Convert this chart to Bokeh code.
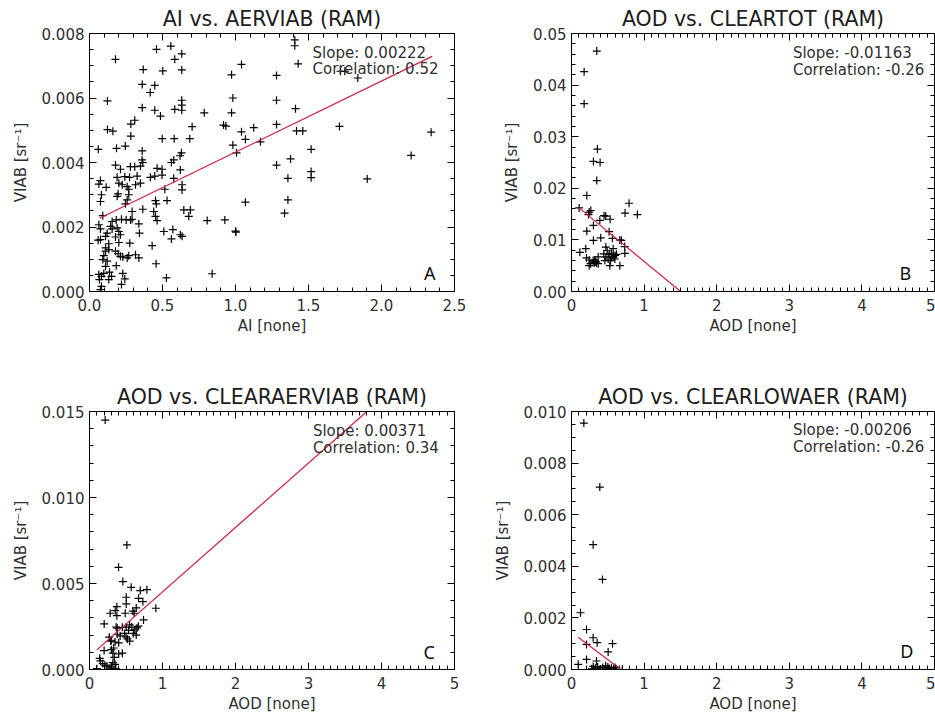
from bokeh.plotting import figure
from bokeh.models import (Range1d, LinearAxis, SingleIntervalTicker, PrintfTickFormatter, Label,
                          CustomLabelingPolicy)
from bokeh.layouts import column, row
from bokeh.embed import file_html
from bokeh.resources import INLINE

# ---------------- Panel A: AI vs. AERVIAB ----------------
a_x = [0.459, 0.557, 0.632, 0.178, 0.584, 0.368, 0.502, 0.632, 0.361, 0.447,
       0.416, 0.123, 0.632, 0.632, 0.632, 0.361, 0.447, 0.486, 0.584, 0.786,
       0.310, 0.283, 0.123, 0.160, 0.283, 0.703, 0.918, 0.934, 0.498, 0.580,
       0.687, 0.060, 0.185, 0.245, 0.361, 0.630, 0.620,
       0.360, 0.365, 0.577, 0.561, 0.178, 0.212, 0.280, 0.310, 0.349, 0.463, 0.497, 0.622,
       0.075, 0.189, 0.242, 0.274, 0.326, 0.417, 0.447, 0.497, 0.577, 0.634, 0.634,
       0.064, 0.114, 0.201, 0.224, 0.258, 0.269, 0.315, 0.349, 0.516,
       0.082, 0.075, 0.196, 0.189, 0.269, 0.258, 0.246, 0.452, 0.458, 0.531,
       0.292, 0.365, 0.440, 0.452, 0.463, 0.646, 0.691, 0.680, 0.091, 0.155,
       0.183, 0.219, 0.251, 0.281, 0.292, 0.338, 0.806, 0.927,
       0.064, 0.075, 0.144, 0.155, 0.189, 0.201, 0.121, 0.110, 0.178, 0.212,
       0.342, 0.509, 0.571, 0.561, 0.622, 0.634, 0.429,
       0.059, 0.075, 0.132, 0.201, 0.276, 0.110,
       0.110, 0.132, 0.178, 0.196, 0.212, 0.228, 0.258, 0.269, 0.315, 0.338,
       0.098, 0.091, 0.121, 0.183, 0.456,
       0.064, 0.082, 0.098, 0.137, 0.151, 0.068, 0.132, 0.228, 0.242, 0.527, 0.840, 0.110,
       0.082, 0.075, 0.219,
       1.406, 1.406, 1.041, 1.429, 0.973, 1.281, 1.719, 1.749, 1.838, 0.982,
       1.281, 0.973, 1.411, 1.281, 1.041, 1.125, 1.418, 1.461, 1.712, 2.340,
       0.982, 1.068, 1.171, 1.007, 1.518, 2.203, 1.281, 1.377, 1.359, 1.518,
       1.518, 1.902, 1.068, 1.359, 1.336, 1.000, 1.003]
a_y = [0.00751, 0.00761, 0.00737, 0.00720, 0.00720, 0.00688, 0.00684, 0.00687, 0.00642, 0.00639,
       0.00617, 0.00591, 0.00593, 0.00578, 0.00562, 0.00570, 0.00562, 0.00544, 0.00565, 0.00554,
       0.00531, 0.00519, 0.00502, 0.00497, 0.00482, 0.00511, 0.00516, 0.00513, 0.00474, 0.00474,
       0.00474, 0.00441, 0.00444, 0.00451, 0.00436, 0.00430, 0.00421,
       0.00408, 0.00400, 0.00408, 0.00400, 0.00392, 0.00379, 0.00387, 0.00387, 0.00389, 0.00382, 0.00379, 0.00377,
       0.00344, 0.00354, 0.00356, 0.00354, 0.00358, 0.00354, 0.00358, 0.00361, 0.00351, 0.00331, 0.00315,
       0.00333, 0.00323, 0.00336, 0.00331, 0.00325, 0.00317, 0.00331, 0.00336, 0.00317,
       0.00300, 0.00279, 0.00303, 0.00295, 0.00300, 0.00284, 0.00272, 0.00282, 0.00272, 0.00282,
       0.00248, 0.00255, 0.00248, 0.00233, 0.00220, 0.00253, 0.00253, 0.00233, 0.00235, 0.00217,
       0.00222, 0.00224, 0.00222, 0.00222, 0.00224, 0.00210, 0.00220, 0.00222,
       0.00207, 0.00194, 0.00202, 0.00194, 0.00197, 0.00186, 0.00181, 0.00171, 0.00169, 0.00176,
       0.00181, 0.00186, 0.00192, 0.00163, 0.00176, 0.00171, 0.00142,
       0.00159, 0.00161, 0.00148, 0.00152, 0.00150, 0.00135,
       0.00125, 0.00130, 0.00125, 0.00117, 0.00109, 0.00107, 0.00104, 0.00111, 0.00114, 0.00104,
       0.00111, 0.00099, 0.00094, 0.00080, 0.00086,
       0.00053, 0.00047, 0.00056, 0.00060, 0.00047, 0.00037, 0.00037, 0.00056, 0.00039, 0.00042, 0.00055, 0.00078,
       0.00016, 0.00006, 0.00022,
       0.00780, 0.00762, 0.00704, 0.00706, 0.00672, 0.00670, 0.00683, 0.00683, 0.00662, 0.00600,
       0.00593, 0.00554, 0.00567, 0.00518, 0.00495, 0.00508, 0.00498, 0.00498, 0.00512, 0.00494,
       0.00454, 0.00472, 0.00464, 0.00430, 0.00441, 0.00422, 0.00392, 0.00411, 0.00351, 0.00372,
       0.00353, 0.00349, 0.00277, 0.00284, 0.00243, 0.00187, 0.00184]
a_fit_x = [0.069, 2.347]
a_fit_y = [0.00227, 0.00729]

# ---------------- Panel B: AOD vs. CLEARTOT ----------------
b_x = [0.348, 0.174, 0.174, 0.357, 0.302, 0.394, 0.348, 0.211, 0.793, 0.738,
       0.907, 0.105, 0.243, 0.266, 0.234, 0.302, 0.449, 0.390, 0.532, 0.472,
       0.211, 0.403, 0.302, 0.518, 0.564, 0.665, 0.687, 0.733,
       0.115, 0.197, 0.207, 0.243, 0.262, 0.298, 0.321, 0.335, 0.344, 0.367,
       0.473, 0.491, 0.445, 0.473, 0.519, 0.551, 0.574, 0.597, 0.537, 0.574,
       0.620, 0.666, 0.528, 0.735, 0.243, 0.367, 0.459, 0.505,
       0.320, 0.310, 0.550, 0.600]
b_y = [0.0466, 0.0426, 0.0364, 0.0276, 0.0252, 0.0250, 0.0215, 0.0186, 0.0171, 0.0152,
       0.0149, 0.0162, 0.0154, 0.0157, 0.0149, 0.0128, 0.0147, 0.0138, 0.0140, 0.0146,
       0.0117, 0.0104, 0.0099, 0.0116, 0.0103, 0.0100, 0.0099, 0.0087,
       0.0076, 0.0083, 0.0065, 0.0061, 0.0054, 0.0060, 0.0061, 0.0058, 0.0055, 0.0067,
       0.0086, 0.0079, 0.0073, 0.0067, 0.0072, 0.0074, 0.0068, 0.0063, 0.0060, 0.0083,
       0.0072, 0.0050, 0.0050, 0.0074, 0.0050, 0.0054, 0.0060, 0.0063,
       0.0057, 0.0055, 0.0066, 0.0070]
b_fit_x = [0.105, 1.503]
b_fit_y = [0.0162, 0.0]

# ---------------- Panel C: AOD vs. CLEARAERVIAB ----------------
c_x = [0.215, 0.512, 0.398, 0.457, 0.503, 0.571, 0.695, 0.786, 0.672, 0.731,
       0.503, 0.375, 0.352, 0.375, 0.283, 0.489, 0.594, 0.612, 0.640, 0.909,
       0.740, 0.201, 0.365, 0.503, 0.535, 0.580, 0.650, 0.670, 0.480, 0.500,
       0.520, 0.550, 0.420, 0.380, 0.600, 0.640, 0.270, 0.300, 0.350, 0.330,
       0.320, 0.300, 0.200, 0.450, 0.400, 0.340, 0.320, 0.140, 0.150, 0.180,
       0.240, 0.300, 0.350, 0.360, 0.100, 0.280, 0.210, 0.380, 0.550, 0.450,
       0.620, 0.290, 0.400]
c_y = [0.01450, 0.00724, 0.00594, 0.00511, 0.00420, 0.00478, 0.00459, 0.00464, 0.00414, 0.00395,
       0.00381, 0.00365, 0.00342, 0.00313, 0.00327, 0.00327, 0.00339, 0.00327, 0.00358, 0.00356,
       0.00288, 0.00265, 0.00247, 0.00247, 0.00228, 0.00247, 0.00242, 0.00252, 0.00210, 0.00190,
       0.00178, 0.00165, 0.00195, 0.00205, 0.00210, 0.00200, 0.00188, 0.00170, 0.00160, 0.00125,
       0.00095, 0.00115, 0.00110, 0.00095, 0.00090, 0.00070, 0.00040, 0.00065, 0.00050, 0.00035,
       0.00020, 0.00015, 0.00030, 0.00005, 0.00005, 0.00008, 0.00025, 0.00240, 0.00260, 0.00245,
       0.00230, 0.00165, 0.00155]
c_fit_x = [0.100, 3.800]
c_fit_y = [0.00114, 0.01500]

# ---------------- Panel D: AOD vs. CLEARLOWAER ----------------
d_x = [0.170, 0.390, 0.298, 0.427, 0.124, 0.207, 0.298, 0.353, 0.207, 0.565,
       0.505, 0.092, 0.207, 0.344, 0.300, 0.330, 0.360, 0.400, 0.430, 0.470,
       0.500, 0.520, 0.550, 0.580, 0.620, 0.660, 0.700, 0.380, 0.450, 0.280, 0.600]
d_y = [0.00955, 0.00707, 0.00484, 0.00349, 0.00220, 0.00155, 0.00123, 0.00104, 0.00097, 0.00100,
       0.00068, 0.00020, 0.00039, 0.00033, 0.00012, 0.00005, 0.00010, 0.00002, 0.00008, 0.00015,
       0.00010, 0.00004, 0.00006, 0.00002, 0.00001, 0.00000, 0.00000, 0.00000, 0.00000, 0.00003, 0.00008]
d_fit_x = [0.092, 0.680]
d_fit_y = [0.00125, 0.0]

FONT = "DejaVu Sans"
TXT = "#303030"
RED = "#d01e46"

HIDE_LABELS = "for (const i of indices) { indices.unset(i) }\nreturn indices"


def panel(title, xs, ys, fx, fy, xmax, ymax, xint, xminor, yint, yminor, xfmt, yfmt,
          xlabel, slope, corr, sx, sy1, sy2, letter, lx, ly,
          width, height, left, right, top, bottom):
    p = figure(width=width, height=height, x_range=Range1d(0, xmax), y_range=Range1d(0, ymax),
               x_axis_type=None, y_axis_type=None, output_backend="svg", toolbar_location=None,
               min_border_left=left, min_border_right=right, min_border_top=top,
               min_border_bottom=bottom)
    p.outline_line_color = "black"
    p.outline_line_width = 1
    p.background_fill_color = "white"
    p.border_fill_color = "white"
    p.title.text = title
    p.title.align = "center"
    p.title.text_font = FONT
    p.title.text_font_size = "20.5px"
    p.title.text_font_style = "normal"
    p.title.text_color = "#202020"
    p.title.standoff = 6

    for side in ("below", "left", "above", "right"):
        if side in ("below", "above"):
            tk = SingleIntervalTicker(interval=xint, num_minor_ticks=xminor)
            fmt = xfmt
        else:
            tk = SingleIntervalTicker(interval=yint, num_minor_ticks=yminor)
            fmt = yfmt
        ax = LinearAxis(ticker=tk, formatter=PrintfTickFormatter(format=fmt))
        ax.major_tick_in = 7
        ax.major_tick_out = 0
        ax.minor_tick_in = 4
        ax.minor_tick_out = 0
        ax.axis_line_color = "black"
        ax.major_tick_line_color = "black"
        ax.minor_tick_line_color = "black"
        if side in ("above", "right"):
            ax.major_label_text_font_size = "0px"
            ax.major_label_standoff = 0
            ax.major_label_policy = CustomLabelingPolicy(code=HIDE_LABELS)
        else:
            ax.major_label_text_font = FONT
            ax.major_label_text_font_size = "15px"
            ax.major_label_text_color = TXT
            ax.major_label_standoff = 7 if side == "below" else 5
            ax.axis_label_text_font = FONT
            ax.axis_label_text_font_size = "15px"
            ax.axis_label_text_font_style = "normal"
            ax.axis_label_text_color = TXT
            if side == "below":
                ax.axis_label = xlabel
                ax.axis_label_standoff = 3
            else:
                ax.axis_label = "VIAB [sr\u207b\u00b9]"
                ax.axis_label_standoff = 9
        p.add_layout(ax, side)

    p.scatter(xs, ys, marker="cross", size=8, line_color="black", line_width=1.2)
    p.line(fx, fy, line_color=RED, line_width=1.2)

    p.add_layout(Label(x=sx, y=sy1, text=slope, text_font=FONT, text_font_size="15px",
                       text_color=TXT, text_baseline="middle", text_align="left"))
    p.add_layout(Label(x=sx, y=sy2, text=corr, text_font=FONT, text_font_size="15px",
                       text_color=TXT, text_baseline="middle", text_align="left"))
    p.add_layout(Label(x=lx, y=ly, text=letter, text_font="Noto Sans", text_font_size="18px",
                       text_color="#101010", text_baseline="middle", text_align="right"))
    return p


pa = panel("AI vs. AERVIAB (RAM)", a_x, a_y, a_fit_x, a_fit_y, 2.5, 0.008, 0.5, 5, 0.002, 4,
           "%.1f", "%.3f", "AI [none]", "Slope: 0.00222", "Correlation: 0.52",
           1.528, 0.00741, 0.00689, "A", 2.37, 0.000587,
           467, 360, 89, 13, 33, 68)
pb = panel("AOD vs. CLEARTOT (RAM)", b_x, b_y, b_fit_x, b_fit_y, 5, 0.05, 1, 10, 0.01, 5,
           "%d", "%.2f", "AOD [none]", "Slope: -0.01163", "Correlation: -0.26",
           3.05, 0.0463, 0.0430, "B", 4.68, 0.00355,
           468, 360, 104, 1, 33, 69)
pc = panel("AOD vs. CLEARAERVIAB (RAM)", c_x, c_y, c_fit_x, c_fit_y, 5, 0.015, 1, 10, 0.005, 5,
           "%d", "%.3f", "AOD [none]", "Slope: 0.00371", "Correlation: 0.34",
           3.06, 0.01388, 0.01287, "C", 4.73, 0.00103,
           467, 355, 89, 13, 51, 46)
pd_ = panel("AOD vs. CLEARLOWAER (RAM)", d_x, d_y, d_fit_x, d_fit_y, 5, 0.010, 1, 10, 0.002, 4,
            "%d", "%.3f", "AOD [none]", "Slope: -0.00206", "Correlation: -0.26",
            3.05, 0.00929, 0.00861, "D", 4.71, 0.000716,
            468, 355, 104, 1, 51, 46)

layout = column(row(pa, pb), row(pc, pd_))
open("out.html", "w").write(file_html(layout, INLINE))
